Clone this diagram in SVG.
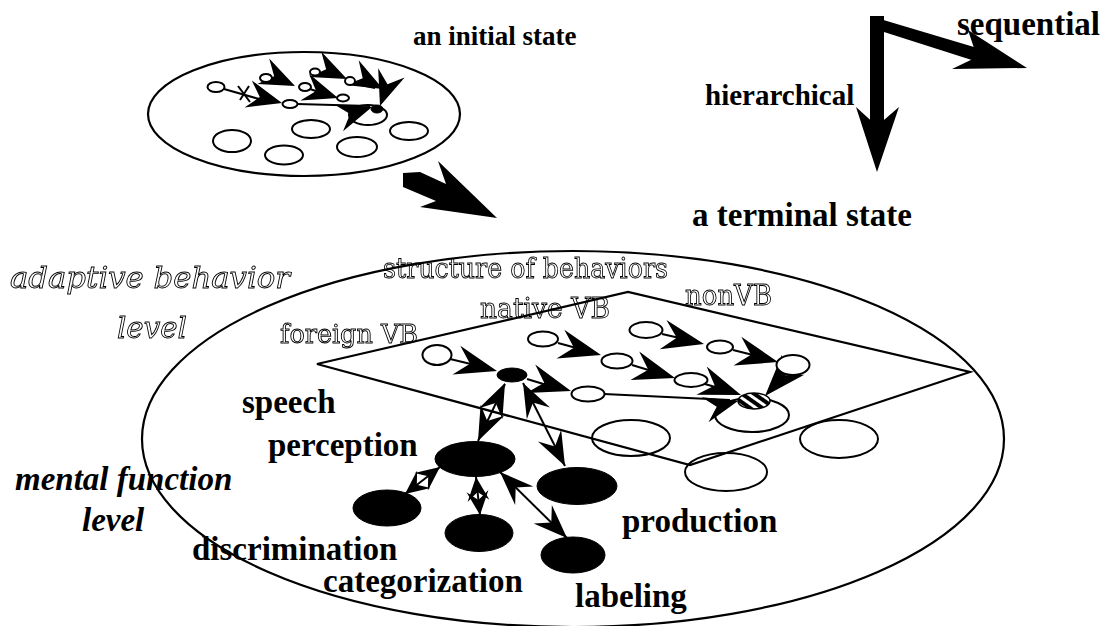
<svg xmlns="http://www.w3.org/2000/svg" xmlns:xlink="http://www.w3.org/1999/xlink" width="1113" height="626" viewBox="0 0 1113 626">
<defs>
<style>
.bt{font-family:"Liberation Serif","Times New Roman",serif;font-weight:bold;fill:#000}
.bi{font-family:"Liberation Serif","Times New Roman",serif;font-weight:bold;font-style:italic;fill:#000}
.ol{font-family:"DejaVu Serif","Liberation Serif",serif;fill:#fff;stroke:#000;stroke-width:0.9}
.oli{font-family:"DejaVu Serif","Liberation Serif",serif;font-style:italic;fill:#fff;stroke:#000;stroke-width:0.9}
.big{fill:none;stroke:#000;stroke-width:2.2}
.n{fill:#fff;stroke:#000;stroke-width:2}
.h{fill:none;stroke:#000;stroke-width:2}
.f{fill:#000;stroke:#000;stroke-width:1}
.ln{fill:none;stroke:#000;stroke-width:2}
.hd{fill:#000}
</style>
<filter id="gray" x="0" y="0" width="1" height="1" filterUnits="objectBoundingBox">
<feColorMatrix type="saturate" values="0"/>
</filter>
<path id="ah" d="M0,0 L-42,-15 L-28,0 L-42,15 Z"/>
<path id="am" d="M0,0 L-34,-13 L-22,0 L-34,13 Z"/>
<path id="ai" d="M0,0 L-35,-14 L-23,0 L-35,14 Z"/>
<path id="as" d="M0,0 L-24,-11 L-15,0 L-24,11 Z"/>
<pattern id="hatch" patternUnits="userSpaceOnUse" width="7" height="7" patternTransform="rotate(-55)">
<rect width="7" height="7" fill="#000"/><rect width="3" height="7" fill="#fff"/>
</pattern>
</defs>
<rect width="1113" height="626" fill="#fff"/>

<!-- labels -->
<g id="labels">
<text class="bt" x="413" y="45" font-size="27">an initial state</text>
<text class="bt" x="692" y="226" font-size="33">a terminal state</text>
<text class="bt" x="705" y="105" font-size="29">hierarchical</text>
<text class="bt" x="957" y="35" font-size="33">sequential</text>
<g filter="url(#gray)">
<text class="oli" x="10" y="288" font-size="30" textLength="280" lengthAdjust="spacingAndGlyphs">adaptive behavior</text>
<text class="oli" x="117" y="338" font-size="30" textLength="70" lengthAdjust="spacingAndGlyphs">level</text>
<text class="ol" x="383" y="278" font-size="28" textLength="285" lengthAdjust="spacingAndGlyphs">structure of behaviors</text>
<text class="ol" x="480" y="318" font-size="28" textLength="130" lengthAdjust="spacingAndGlyphs">native VB</text>
<text class="ol" x="685" y="305" font-size="28" textLength="87" lengthAdjust="spacingAndGlyphs">nonVB</text>
<text class="ol" x="280" y="343" font-size="26" textLength="138" lengthAdjust="spacingAndGlyphs">foreign VB</text>
</g>
<text class="bi" x="15" y="490" font-size="33">mental function</text>
<text class="bi" x="82" y="531" font-size="33">level</text>
<text class="bt" x="242" y="413" font-size="33">speech</text>
<text class="bt" x="268" y="456" font-size="33">perception</text>
<text class="bt" x="192" y="560" font-size="33">discrimination</text>
<text class="bt" x="323" y="592" font-size="33">categorization</text>
<text class="bt" x="622" y="532" font-size="33">production</text>
<text class="bt" x="575" y="607" font-size="33">labeling</text>
</g>

<!-- direction indicator -->
<g id="direction-arrows">
<rect x="870" y="16" width="14" height="114" fill="#000"/>
<polygon points="870,16 984,50 978,62 884,32" fill="#000"/>
<polygon points="856,107 877,126 899,107 877,172" fill="#000"/>
<polygon points="968,30 1027,68 952,69 977,57" fill="#000"/>
</g>

<!-- initial state -->
<g id="initial-state">
<ellipse class="big" cx="304" cy="114" rx="156" ry="62"/>
<ellipse class="n" cx="232" cy="141" rx="19" ry="11"/>
<ellipse class="n" cx="284" cy="155" rx="19" ry="9.5"/>
<ellipse class="n" cx="311" cy="129" rx="19" ry="9"/>
<ellipse class="n" cx="357" cy="147" rx="20" ry="10"/>
<ellipse class="n" cx="368" cy="115" rx="19" ry="10"/>
<ellipse class="n" cx="409" cy="131" rx="19" ry="9"/>
<g class="ln">
<line x1="224" y1="89" x2="266" y2="101"/>
<line x1="238" y1="86" x2="250" y2="102"/>
<line x1="240" y1="100" x2="249" y2="86"/>
<line x1="272" y1="80" x2="290" y2="84"/>
<line x1="320" y1="73" x2="340" y2="77"/>
<line x1="310" y1="89" x2="330" y2="96"/>
<line x1="356" y1="84" x2="375" y2="88"/>
<line x1="297" y1="104" x2="370" y2="106"/>
</g>
<g class="hd">
<use xlink:href="#ai" transform="translate(282,103) rotate(15)"/>
<use xlink:href="#ai" transform="translate(295,86) rotate(25)"/>
<use xlink:href="#ai" transform="translate(347,79) rotate(25)"/>
<use xlink:href="#ai" transform="translate(338,98) rotate(18)"/>
<use xlink:href="#ai" transform="translate(383,89) rotate(28)"/>
<use xlink:href="#ai" transform="translate(372,107) rotate(-18)"/>
<use xlink:href="#ai" transform="translate(380,106) rotate(109)"/>
</g>
<ellipse class="n" cx="216" cy="87" rx="8.5" ry="5"/>
<ellipse class="n" cx="266" cy="78" rx="6" ry="4"/>
<ellipse class="n" cx="290" cy="104" rx="7.5" ry="4"/>
<ellipse class="n" cx="305" cy="87" rx="6" ry="4"/>
<ellipse class="n" cx="315" cy="72" rx="5" ry="3.5"/>
<ellipse class="n" cx="350" cy="81" rx="5" ry="4"/>
<ellipse class="n" cx="343" cy="98" rx="6" ry="3.5"/>
<ellipse class="f" cx="377" cy="109" rx="6" ry="4"/>
</g>

<!-- transition arrow -->
<g id="transition-arrow">
<polygon points="403,173 420,172 446,184 438,161 497,218 420,207 436,201 403,187" fill="#000"/>
</g>

<!-- terminal state -->
<g id="terminal-state">
<ellipse class="big" cx="573" cy="439" rx="431" ry="188"/>
</g>

<g id="behavior-plane">
<polygon points="317,364 628,292 970,372 690,465" fill="none" stroke="#000" stroke-width="2.2"/>
</g>

<!-- lower level hollow nodes -->
<g id="lower-hollow-nodes">
<ellipse class="h" cx="631" cy="438" rx="39" ry="18"/>
<ellipse class="h" cx="839" cy="439" rx="39" ry="19"/>
<ellipse class="h" cx="726" cy="472" rx="41" ry="19"/>
<ellipse class="h" cx="752" cy="415" rx="37" ry="17"/>
</g>

<!-- connectors -->
<g id="connectors">
<g class="ln">
<line x1="450" y1="359" x2="475" y2="365"/>
<line x1="527" y1="379" x2="550" y2="386"/>
<line x1="558" y1="343" x2="580" y2="349"/>
<line x1="632" y1="365" x2="655" y2="372"/>
<line x1="662" y1="334" x2="684" y2="339"/>
<line x1="733" y1="350" x2="757" y2="356"/>
<line x1="705" y1="384" x2="722" y2="389"/>
<line x1="785" y1="374" x2="775" y2="385"/>
<line x1="604" y1="394" x2="730" y2="400"/>
<line x1="505" y1="384" x2="478" y2="441"/>
<line x1="523" y1="383" x2="565" y2="466"/>
<line x1="440" y1="467" x2="405" y2="494"/>
<line x1="476" y1="477" x2="480" y2="515"/>
<line x1="500" y1="472" x2="567" y2="538"/>
</g>
<g class="hd">
<use xlink:href="#ah" transform="translate(497,371) rotate(15)"/>
<use xlink:href="#ah" transform="translate(571,391) rotate(17)"/>
<use xlink:href="#ah" transform="translate(601,355) rotate(15)"/>
<use xlink:href="#ah" transform="translate(675,378) rotate(17)"/>
<use xlink:href="#ah" transform="translate(704,344) rotate(13)"/>
<use xlink:href="#ah" transform="translate(778,362) rotate(15)"/>
<use xlink:href="#ah" transform="translate(741,395) rotate(20)"/>
<use xlink:href="#ah" transform="translate(765,396) rotate(132)"/>
<use xlink:href="#am" transform="translate(738,401) rotate(-15)"/>
<use xlink:href="#am" transform="translate(478,441) rotate(115)"/>
<use xlink:href="#am" transform="translate(505,383) rotate(-65)"/>
<use xlink:href="#am" transform="translate(565,466) rotate(63)"/>
<use xlink:href="#am" transform="translate(523,383) rotate(-117)"/>
<use xlink:href="#as" transform="translate(405,494) rotate(142)"/>
<use xlink:href="#as" transform="translate(440,467) rotate(-38)"/>
<use xlink:href="#as" transform="translate(480,515) rotate(84)"/>
<use xlink:href="#as" transform="translate(476,477) rotate(-96)"/>
<use xlink:href="#am" transform="translate(567,538) rotate(44.5)"/>
<use xlink:href="#am" transform="translate(500,472) rotate(-135.5)"/>
</g>
</g>

<!-- behavior nodes -->
<g id="node-foreign1"><ellipse class="n" cx="437" cy="355" rx="14.5" ry="10"/></g>
<g id="node-hub"><ellipse class="f" cx="512" cy="375" rx="15" ry="7"/></g>
<g id="node-native1"><ellipse class="n" cx="543" cy="339" rx="15" ry="7.5"/></g>
<g id="node-native2"><ellipse class="n" cx="617" cy="361" rx="15.5" ry="7.5"/></g>
<g id="node-non1"><ellipse class="n" cx="646" cy="330" rx="16.5" ry="8"/></g>
<g id="node-mid"><ellipse class="n" cx="588" cy="394" rx="16.5" ry="7.5"/></g>
<g id="node-native3"><ellipse class="n" cx="691" cy="380" rx="16.5" ry="7"/></g>
<g id="node-non2"><ellipse class="n" cx="720" cy="347" rx="13" ry="6.5"/></g>
<g id="node-non3"><ellipse class="n" cx="793" cy="365" rx="16.5" ry="10"/></g>
<g id="node-hatched"><ellipse cx="754" cy="401" rx="16" ry="8" fill="url(#hatch)" stroke="#000" stroke-width="1.5"/></g>

<!-- mental function nodes -->
<g id="node-perception"><ellipse class="f" cx="475" cy="459" rx="40" ry="17.5"/></g>
<g id="node-production"><ellipse class="f" cx="577" cy="486" rx="40" ry="18.5"/></g>
<g id="node-discrimination"><ellipse class="f" cx="387" cy="508" rx="34" ry="18"/></g>
<g id="node-categorization"><ellipse class="f" cx="479" cy="533" rx="34" ry="18.5"/></g>
<g id="node-labeling"><ellipse class="f" cx="573" cy="555" rx="32" ry="18"/></g>
</svg>
